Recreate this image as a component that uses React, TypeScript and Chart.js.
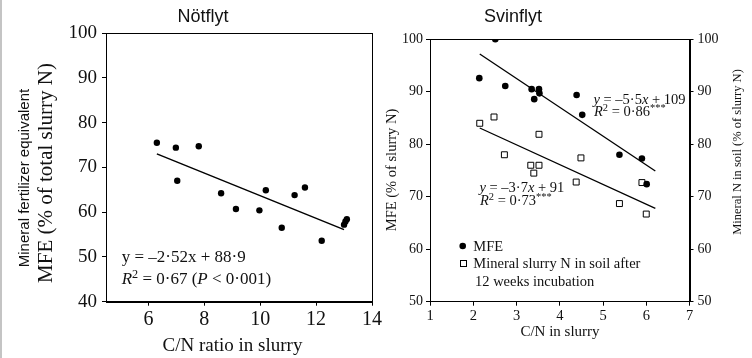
import React, { useEffect, useRef } from "react";
import { Chart, registerables } from "chart.js";
Chart.register(...registerables);

// ---- Data: Nötflyt (cattle slurry) ----
const cattleCN = [6.3, 6.98, 7.8, 7.03, 8.6, 9.13, 9.97, 10.2, 10.77, 11.23, 11.6, 12.2, 13.0, 13.05, 13.1];
const cattleMFE = [75.5, 74.4, 74.7, 67.0, 64.2, 60.7, 60.4, 64.9, 56.5, 63.8, 65.5, 53.6, 57.2, 57.9, 58.4];
const cattleFitX = [6.3, 13.0];
const cattleFitY = [73.0, 56.1];

// ---- Data: Svinflyt (pig slurry) ----
const pigCN = [2.14, 2.51, 2.74, 3.35, 3.41, 3.52, 3.53, 4.39, 4.52, 5.38, 5.9, 6.01];
const pigMFE = [92.6, 100, 91.1, 90.5, 88.6, 90.5, 89.7, 89.4, 85.6, 78.0, 77.3, 72.4];
const pigSoilCN = [2.15, 2.48, 2.72, 3.33, 3.4, 3.52, 3.52, 4.38, 4.49, 5.38, 5.9, 6.0];
const pigSoilN = [84.0, 85.2, 78.0, 76.0, 74.5, 76.0, 81.9, 72.8, 77.4, 68.7, 72.7, 66.7];
const pigMFEFitX = [2.15, 6.21];
const pigMFEFitY = [97.2, 74.9];
const pigSoilFitX = [2.15, 6.21];
const pigSoilFitY = [83.1, 67.8];

// ---- Tick labels ----
const leftXTicks = [6, 8, 10, 12, 14];
const leftYTicks = [40, 50, 60, 70, 80, 90, 100];
const rightXTicks = [1, 2, 3, 4, 5, 6, 7];
const rightYTicks = [50, 60, 70, 80, 90, 100];

const SERIF = "'Liberation Serif', 'DejaVu Serif', serif";
const SANS = "'Liberation Sans', Arial, sans-serif";

type Seg = { t: string; it?: boolean; sup?: boolean };

function drawRich(ctx: CanvasRenderingContext2D, segs: Seg[], x: number, y: number, size: number) {
  let cx = x;
  ctx.textBaseline = "alphabetic";
  ctx.textAlign = "left";
  for (const s of segs) {
    const fs = s.sup ? size * 0.72 : size;
    ctx.font = `${s.it ? "italic " : ""}${fs}px ${SERIF}`;
    ctx.fillText(s.t, cx, s.sup ? y - size * 0.36 : y);
    cx += ctx.measureText(s.t).width;
  }
}

function drawRotated(ctx: CanvasRenderingContext2D, text: string, x: number, y: number, font: string) {
  ctx.save();
  ctx.translate(x, y);
  ctx.rotate(-Math.PI / 2);
  ctx.font = font;
  ctx.textAlign = "center";
  ctx.textBaseline = "middle";
  ctx.fillText(text, 0, 0);
  ctx.restore();
}

const toPts = (xs: number[], ys: number[]) => xs.map((x, i) => ({ x, y: ys[i] }));

const boxPlugin = {
  id: "box",
  afterDatasetsDraw(chart: any) {
    const { ctx, chartArea: a } = chart;
    ctx.save();
    ctx.strokeStyle = "#000";
    ctx.lineWidth = 1;
    ctx.strokeRect(Math.round(a.left) + 0.5, Math.round(a.top) + 0.5, Math.round(a.right - a.left), Math.round(a.bottom - a.top));
    ctx.restore();
  },
};

function axisCommon(ticksList: number[], fontSize: number, pad: number) {
  return {
    type: "linear" as const,
    afterBuildTicks: (s: any) => {
      s.ticks = ticksList.map((v) => ({ value: v }));
    },
    grid: { display: true, drawOnChartArea: false, drawTicks: true, tickLength: 4, color: "#000", lineWidth: 1 },
    border: { display: true, color: "#000", width: 1 },
    ticks: {
      font: { family: SERIF, size: fontSize },
      color: "#111",
      padding: pad,
      autoSkip: false,
      maxRotation: 0,
      callback: (v: any) => String(v),
    },
  };
}

const leftTextPlugin = {
  id: "leftText",
  afterDraw(chart: any) {
    const ctx = chart.ctx as CanvasRenderingContext2D;
    ctx.save();
    ctx.fillStyle = "#111";
    ctx.font = `18px ${SANS}`;
    ctx.textAlign = "center";
    ctx.textBaseline = "middle";
    ctx.fillText("Nötflyt", 203, 17);
    ctx.font = `19px ${SERIF}`;
    ctx.fillText("C/N ratio in slurry", 232.5, 346);
    drawRotated(ctx, "Mineral fertilizer equivalent", 25, 178, `15px ${SANS}`);
    drawRotated(ctx, "MFE (% of total slurry N)", 46, 173, `21px ${SERIF}`);
    drawRich(ctx, [{ t: "y = –2·52x + 88·9" }], 121.7, 262, 17);
    drawRich(
      ctx,
      [{ t: "R", it: true }, { t: "2", sup: true }, { t: " = 0·67 (" }, { t: "P", it: true }, { t: " < 0·001)" }],
      121.7,
      284,
      17
    );
    ctx.restore();
  },
};

const OFF = 380;
const rightTextPlugin = {
  id: "rightText",
  afterDraw(chart: any) {
    const ctx = chart.ctx as CanvasRenderingContext2D;
    ctx.save();
    ctx.fillStyle = "#111";
    ctx.font = `18px ${SANS}`;
    ctx.textAlign = "center";
    ctx.textBaseline = "middle";
    ctx.fillText("Svinflyt", 513 - OFF, 17);
    ctx.font = `15px ${SERIF}`;
    ctx.fillText("C/N in slurry", 560 - OFF, 332);
    drawRotated(ctx, "MFE (% of slurry N)", 392 - OFF, 170, `14.5px ${SERIF}`);
    drawRotated(ctx, "Mineral N in soil (% of slurry N)", 738 - OFF, 152, `12.5px ${SERIF}`);
    drawRich(ctx, [{ t: "y", it: true }, { t: " = –5·5" }, { t: "x", it: true }, { t: " + 109" }], 593.5 - OFF, 103.5, 14.5);
    drawRich(ctx, [{ t: "R", it: true }, { t: "2", sup: true }, { t: " = 0·86" }, { t: "***", sup: true }], 594 - OFF, 116, 14.5);
    drawRich(ctx, [{ t: "y", it: true }, { t: " = –3·7" }, { t: "x", it: true }, { t: " + 91" }], 479.5 - OFF, 192, 14.5);
    drawRich(ctx, [{ t: "R", it: true }, { t: "2", sup: true }, { t: " = 0·73" }, { t: "***", sup: true }], 480 - OFF, 205, 14.5);
    // legend
    ctx.fillStyle = "#000";
    ctx.beginPath();
    ctx.arc(462.7 - OFF, 246, 3.3, 0, Math.PI * 2);
    ctx.fill();
    ctx.strokeStyle = "#000";
    ctx.lineWidth = 1;
    ctx.fillStyle = "#fff";
    ctx.fillRect(460.5 - OFF, 260.5, 6, 6);
    ctx.strokeRect(460.5 - OFF, 260.5, 6, 6);
    ctx.fillStyle = "#111";
    drawRich(ctx, [{ t: "MFE" }], 473.3 - OFF, 250.5, 14.5);
    drawRich(ctx, [{ t: "Mineral slurry N in soil after" }], 473.3 - OFF, 268, 14.5);
    drawRich(ctx, [{ t: "12 weeks incubation" }], 475 - OFF, 285.5, 14.5);
    ctx.restore();
  },
};

export default function App() {
  const leftRef = useRef<HTMLCanvasElement>(null);
  const rightRef = useRef<HTMLCanvasElement>(null);

  useEffect(() => {
    const left = new Chart(leftRef.current as HTMLCanvasElement, {
      type: "scatter",
      data: {
        datasets: [
          {
            type: "scatter",
            data: toPts(cattleCN, cattleMFE),
            pointStyle: "circle",
            pointRadius: 3.2,
            backgroundColor: "#000",
            borderWidth: 0,
          } as any,
          {
            type: "line",
            data: toPts(cattleFitX, cattleFitY),
            borderColor: "#000",
            borderWidth: 1.5,
            pointRadius: 0,
            fill: false,
          } as any,
        ],
      },
      options: {
        responsive: false,
        animation: false,
        events: [],
        layout: { padding: { top: 33, right: 18, bottom: 0, left: 0 } },
        plugins: { legend: { display: false }, tooltip: { enabled: false }, title: { display: false } },
        scales: {
          x: {
            ...axisCommon(leftXTicks, 20, 2),
            min: 4.48,
            max: 14,
            afterFit: (s: any) => {
              s.height = 56.3;
            },
          },
          y: {
            ...axisCommon(leftYTicks, 19, 5),
            min: 40,
            max: 100,
            afterFit: (s: any) => {
              s.width = 106;
            },
          },
        } as any,
      },
      plugins: [boxPlugin, leftTextPlugin],
    });

    const right = new Chart(rightRef.current as HTMLCanvasElement, {
      type: "scatter",
      data: {
        datasets: [
          {
            type: "scatter",
            data: toPts(pigCN, pigMFE),
            pointStyle: "circle",
            pointRadius: 3.3,
            backgroundColor: "#000",
            borderWidth: 0,
          } as any,
          {
            type: "scatter",
            data: toPts(pigSoilCN, pigSoilN),
            pointStyle: "rect",
            pointRadius: 4.2,
            backgroundColor: "#fff",
            borderColor: "#000",
            borderWidth: 1,
          } as any,
          {
            type: "line",
            data: toPts(pigMFEFitX, pigMFEFitY),
            borderColor: "#000",
            borderWidth: 1.3,
            pointRadius: 0,
            fill: false,
          } as any,
          {
            type: "line",
            data: toPts(pigSoilFitX, pigSoilFitY),
            borderColor: "#000",
            borderWidth: 1.3,
            pointRadius: 0,
            fill: false,
          } as any,
        ],
      },
      options: {
        responsive: false,
        animation: false,
        events: [],
        layout: { padding: { top: 39.3, right: 0, bottom: 0, left: 0 } },
        plugins: { legend: { display: false }, tooltip: { enabled: false }, title: { display: false } },
        scales: {
          x: {
            ...axisCommon(rightXTicks, 14.5, 2),
            min: 1,
            max: 7,
            afterFit: (s: any) => {
              s.height = 56.3;
            },
          },
          y: {
            ...axisCommon(rightYTicks, 14, 3),
            position: "left",
            min: 50,
            max: 100,
            afterFit: (s: any) => {
              s.width = 50;
            },
          },
          y2: {
            ...axisCommon(rightYTicks, 14, 4),
            position: "right",
            min: 50,
            max: 100,
            afterFit: (s: any) => {
              s.width = 62.5;
            },
          },
        } as any,
      },
      plugins: [boxPlugin, rightTextPlugin],
    });

    return () => {
      left.destroy();
      right.destroy();
    };
  }, []);

  return (
    <div style={{ position: "absolute", left: 0, top: 0, width: 752, height: 358, background: "#fff", overflow: "hidden" }}>
      <div style={{ position: "absolute", left: 0, top: 0, width: 2, height: 358, background: "#c4c4c4" }} />
      <canvas ref={leftRef} width={390} height={358} style={{ position: "absolute", left: 0, top: 0 }} />
      <canvas ref={rightRef} width={372} height={358} style={{ position: "absolute", left: 380, top: 0 }} />
    </div>
  );
}
